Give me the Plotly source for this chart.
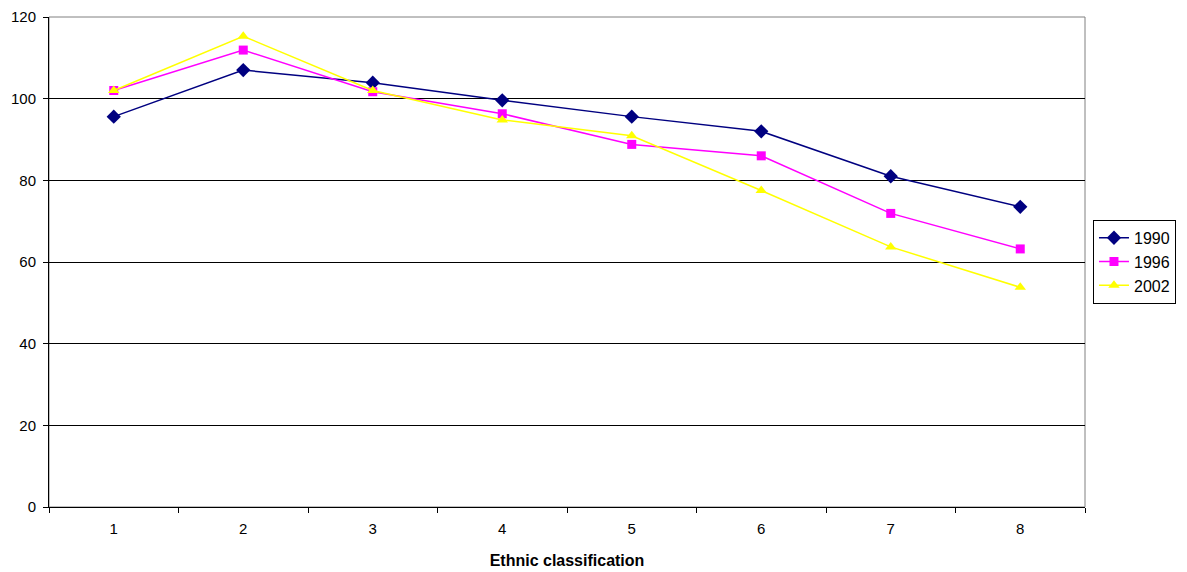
import plotly.graph_objects as go

categories = ["1", "2", "3", "4", "5", "6", "7", "8"]
v1990 = [95.6, 107.0, 103.9, 99.6, 95.6, 92.0, 81.0, 73.5]
v1996 = [102.0, 111.9, 101.7, 96.3, 88.8, 86.0, 71.9, 63.2]
v2002 = [102.0, 115.3, 102.0, 94.8, 90.9, 77.5, 63.7, 53.8]
y_ticks = [0, 20, 40, 60, 80, 100, 120]

series = [
    ("1990", v1990, "#000080", "diamond", 11),
    ("1996", v1996, "#FF00FF", "square", 9),
    ("2002", v2002, "#FFFF00", "triangle-up", 10),
]

fig = go.Figure()
for name, vals, color, sym, size in series:
    fig.add_trace(go.Scatter(
        x=categories, y=vals, name=name, mode="lines+markers",
        line=dict(color=color, width=1.5),
        marker=dict(symbol=sym, size=size, color=color, line=dict(width=0)),
    ))

font = "Liberation Sans, Arial, sans-serif"
fig.update_layout(
    width=1187, height=572,
    margin=dict(l=41, r=110, t=9, b=73, autoexpand=False),
    plot_bgcolor="white", paper_bgcolor="white",
    font=dict(family=font, size=15, color="black"),
    showlegend=True,
    legend=dict(
        x=1.0077, y=0.586, xanchor="left", yanchor="top",
        bordercolor="black", borderwidth=1, bgcolor="white",
        font=dict(size=16), tracegroupgap=0,
    ),
    xaxis=dict(
        type="category", range=[-0.5, 7.5], tickson="boundaries",
        ticks="outside", ticklen=5, tickcolor="black", ticklabelstandoff=8,
        showline=True, linecolor="black", linewidth=1,
        showgrid=False, zeroline=False, automargin=False,
        title=dict(text="<b>Ethnic classification</b>", font=dict(size=16), standoff=18),
    ),
    yaxis=dict(
        range=[0, 120], tickvals=y_ticks, ticks="outside", ticklen=5, tickcolor="black",
        ticklabelstandoff=4, ticklabeloverflow="allow",
        showline=True, linecolor="black", linewidth=1, automargin=False,
        showgrid=True, gridcolor="black", gridwidth=1, zeroline=False,
    ),
)
fig.add_shape(type="rect", xref="paper", yref="paper", x0=0, y0=0, x1=1, y1=1,
              line=dict(color="#808080", width=1), layer="below")
fig.write_html("out.html")
